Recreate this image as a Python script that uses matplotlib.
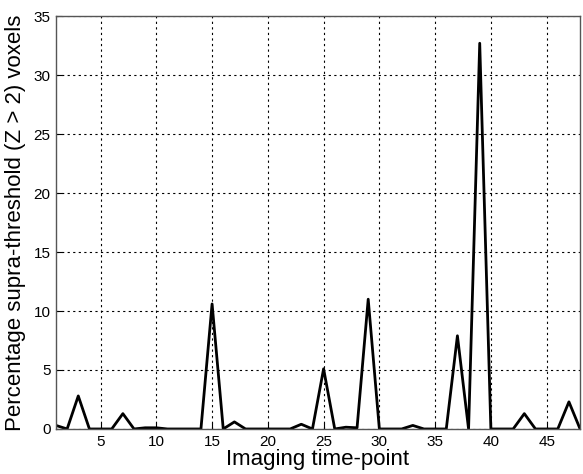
import matplotlib.pyplot as plt

# time-points 1..48 and percentage of supra-threshold voxels
tp = list(range(1, 49))
pct = [0.3, 0.0, 2.8, 0.0, 0.0, 0.0, 1.3, 0.0, 0.1, 0.1,
       0.0, 0.0, 0.0, 0.0, 10.6, 0.0, 0.6, 0.0, 0.0, 0.0,
       0.0, 0.0, 0.4, 0.0, 5.1, 0.0, 0.15, 0.1, 11.0, 0.0,
       0.0, 0.0, 0.3, 0.0, 0.0, 0.0, 7.9, 0.0, 32.7, 0.0,
       0.0, 0.0, 1.3, 0.0, 0.0, 0.0, 2.3, 0.0]

xticks = [5, 10, 15, 20, 25, 30, 35, 40, 45]
yticks = [0, 5, 10, 15, 20, 25, 30, 35]

plt.rcParams['font.family'] = ['Liberation Sans', 'DejaVu Sans']

fig = plt.figure(figsize=(5.83, 4.74), dpi=100)
ax = fig.add_axes([0.096, 0.095, 0.899, 0.871])

ax.plot(tp, pct, color='black', linewidth=2.0)

ax.set_xlim(1, 48)
ax.set_ylim(0, 35)
ax.set_xticks(xticks)
ax.set_yticks(yticks)
ax.grid(True, linestyle=(0, (2, 3)), color='black', linewidth=0.8)
ax.tick_params(direction='in', labelsize=11, length=4, pad=4)
for s in ax.spines.values():
    s.set_color('#555555')
    s.set_linewidth(1.0)

ax.set_xlabel('Imaging time-point', fontsize=16, labelpad=0)
ax.set_ylabel('Percentage supra-threshold (Z > 2) voxels', fontsize=16, labelpad=5)

fig.savefig('out.png', dpi=100)
